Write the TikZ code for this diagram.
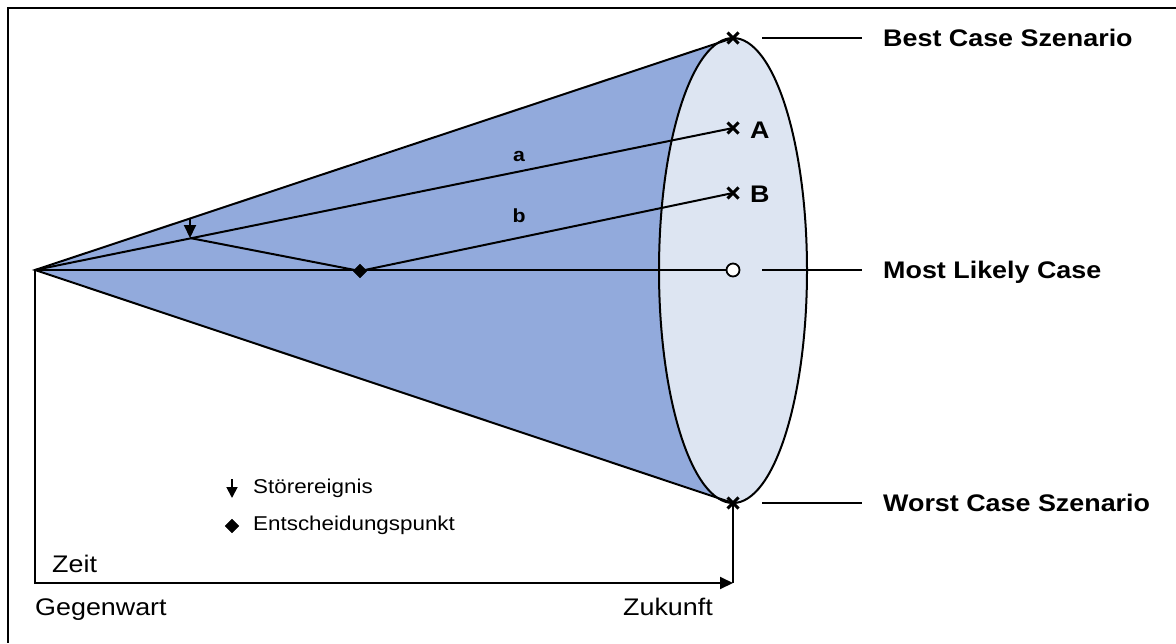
\documentclass[tikz,border=0pt]{standalone}
\usepackage{fontspec}
\setmainfont[FakeStretch=1.12]{Liberation Sans}
\usetikzlibrary{arrows.meta,shapes.geometric,shapes.misc}
\definecolor{conedark}{RGB}{146,170,220}
\definecolor{conelight}{RGB}{221,229,242}
\tikzset{
  wire/.style={line width=2pt},
  xmark/.style={cross out, draw, line width=3pt, minimum size=8pt, inner sep=0pt},
  dmark/.style={diamond, draw, fill=black, inner sep=0pt, minimum size=14pt},
  omark/.style={circle, draw, fill=white, line width=1.8pt, inner sep=0pt, minimum size=13pt},
  lbl/.style={anchor=base west, font=\fontsize{24}{28}\selectfont, inner sep=0pt},
  bigl/.style={anchor=base west, font=\fontsize{24}{28}\selectfont\bfseries, inner sep=0pt},
  leg/.style={anchor=base west, font=\fontsize{20}{24}\selectfont, inner sep=0pt},
  tip/.style={-{Triangle[length=13pt,width=12pt]}}
}
\begin{document}
\begin{tikzpicture}[x=1pt,y=-1pt]
  \useasboundingbox (0,0) rectangle (1176,643);
  \draw[wire] (1176,8) -- (8,8) -- (8,643);
  \coordinate (o) at (35,270);
  \coordinate (top) at (733,38);
  \coordinate (bot) at (733,503);
  \coordinate (a) at (733,128);
  \coordinate (b) at (733,193);
  \coordinate (ml) at (733,270);
  \coordinate (stoer) at (190,238);
  \coordinate (entsch) at (360,271);
  \fill[conedark] (o) -- (top) -- (bot) -- cycle;
  \draw[wire,fill=conelight] (733,270.5) ellipse [x radius=74pt, y radius=232.5pt];
  \draw[wire] (top) -- (o) -- (bot);
  \draw[wire] (o) -- (a);
  \draw[wire] (stoer) -- (entsch) -- (b);
  \draw[wire] (o) -- (ml);
  \draw[wire,tip] (190,218) -- (stoer);
  \node[dmark] (entschmark) at (entsch) {};
  \node[omark] (mlmark) at (ml) {};
  \node[xmark] (topmark) at (top) {};
  \node[xmark] (botmark) at (bot) {};
  \node[xmark] (amark) at (a) {};
  \node[xmark] (bmark) at (b) {};
  \node[bigl] (alabel) at (750,138) {A};
  \node[bigl] (blabel) at (750,202) {B};
  \node[anchor=base, font=\fontsize{19}{22}\selectfont\bfseries, inner sep=0pt] (la) at (519,161) {a};
  \node[anchor=base, font=\fontsize{19}{22}\selectfont\bfseries, inner sep=0pt] (lb) at (519,222) {b};
  \draw[wire] (762,38) -- (862,38);
  \draw[wire] (762,270) -- (862,270);
  \draw[wire] (762,503) -- (862,503);
  \node[bigl] (best) at (883,46) {Best Case Szenario};
  \node[bigl] (most) at (883,278) {Most Likely Case};
  \node[bigl] (worst) at (883,511) {Worst Case Szenario};
  \draw[wire,tip] (o) -- (35,583) -- (733,583);
  \draw[wire] (733,583) -- (botmark.center);
  \node[lbl] (zeit) at (52,572) {Zeit};
  \node[lbl] (gegenwart) at (35,615) {Gegenwart};
  \node[lbl,anchor=base east] (zukunft) at (713,615) {Zukunft};
  \draw[line width=1.8pt,-{Triangle[length=11pt,width=11pt]}] (232,479) -- (232,498);
  \node[dmark,minimum size=14pt] (legdia) at (232,526) {};
  \node[leg] (legstoer) at (253,493) {Störereignis};
  \node[leg] (legentsch) at (253,530) {Entscheidungspunkt};
\end{tikzpicture}
\end{document}
